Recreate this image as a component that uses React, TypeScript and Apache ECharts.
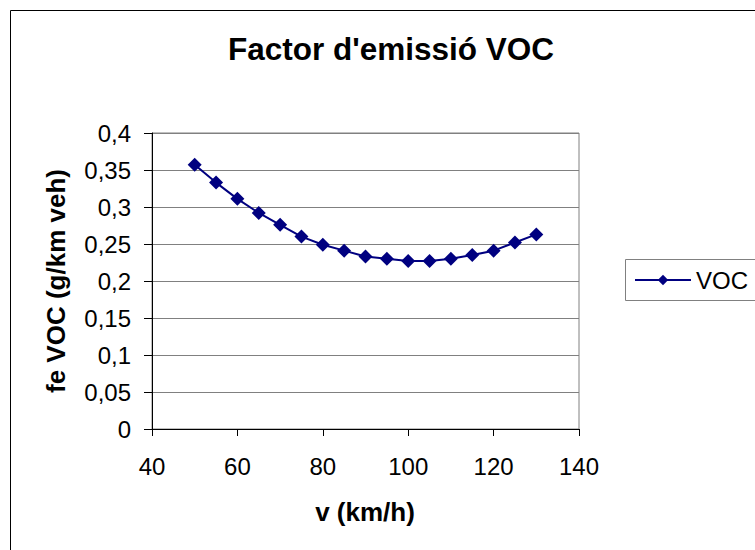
import React, { useEffect, useRef } from "react";
import * as echarts from "echarts";

// Speed (km/h) and VOC emission factor (g/km veh)
const speeds = [50, 55, 60, 65, 70, 75, 80, 85, 90, 95, 100, 105, 110, 115, 120, 125, 130];
const vocFactor = [
  0.357, 0.333, 0.311, 0.292, 0.276, 0.26, 0.249, 0.241, 0.233, 0.23, 0.227, 0.227, 0.23, 0.235,
  0.241, 0.252, 0.263,
];
const seriesName = "VOC";
const titleText = "Factor d'emissió VOC";
const xAxisTitle = "v (km/h)";
const yAxisTitle = "fe VOC (g/km veh)";

const FONT = "'Liberation Sans', Arial, sans-serif";
const NAVY = "#000080";

export default function App() {
  const ref = useRef<HTMLDivElement>(null);

  useEffect(() => {
    const el = ref.current;
    if (!el) return;
    const chart = echarts.init(el, undefined, { renderer: "svg" });

    const points = speeds.map((s, i) => [s, vocFactor[i]]);

    chart.setOption({
      animation: false,
      backgroundColor: "#ffffff",
      textStyle: { fontFamily: FONT },
      title: {
        text: titleText,
        left: 386,
        top: 28,
        textAlign: "center",
        textStyle: { fontFamily: FONT, fontSize: 31.5, fontWeight: "bold", color: "#000" },
      },
      grid: { left: 152, right: 176, top: 133, bottom: 121, show: true, borderColor: "#808080", borderWidth: 1 },
      xAxis: {
        type: "value",
        min: 40,
        max: 140,
        interval: 20,
        axisLine: { show: true, lineStyle: { color: "#000", width: 1 } },
        axisTick: { show: true, length: 7, lineStyle: { color: "#000" } },
        splitLine: { show: false },
        axisLabel: { fontFamily: FONT, fontSize: 24, color: "#000", margin: 25 },
      },
      yAxis: {
        type: "value",
        min: 0,
        max: 0.4,
        interval: 0.05,
        axisLine: { show: true, lineStyle: { color: "#000", width: 1 } },
        axisTick: { show: true, length: 8, lineStyle: { color: "#000" } },
        splitLine: { show: true, lineStyle: { color: "#808080", width: 1 } },
        axisLabel: {
          fontFamily: FONT,
          fontSize: 24,
          color: "#000",
          margin: 21,
          formatter: (v: number) => String(+v.toFixed(2)).replace(".", ","),
        },
      },
      legend: {
        data: [seriesName],
        left: 634,
        top: 268,
        padding: 0,
        itemWidth: 56,
        itemHeight: 13,
        itemGap: 0,
        textStyle: { fontFamily: FONT, fontSize: 24, color: "#000" },
      },
      graphic: [
        {
          type: "rect",
          shape: { x: 10.5, y: 10.5, width: 800, height: 600 },
          style: { fill: "none", stroke: "#000", lineWidth: 1 },
          silent: true,
        },
        {
          type: "rect",
          shape: { x: 625.5, y: 259.5, width: 200, height: 41 },
          style: { fill: "none", stroke: "#808080", lineWidth: 1 },
          silent: true,
        },
        {
          type: "text",
          x: 365,
          y: 512,
          style: {
            text: xAxisTitle,
            fontFamily: FONT,
            fontSize: 26,
            fontWeight: "bold",
            fill: "#000",
            align: "center",
            verticalAlign: "middle",
          },
        },
        {
          type: "text",
          x: 56,
          y: 281,
          rotation: Math.PI / 2,
          style: {
            text: yAxisTitle,
            fontFamily: FONT,
            fontSize: 26,
            fontWeight: "bold",
            fill: "#000",
            align: "center",
            verticalAlign: "middle",
          },
        },
      ],
      series: [
        {
          name: seriesName,
          type: "line",
          data: points,
          symbol: "diamond",
          symbolSize: 14,
          showSymbol: true,
          lineStyle: { color: NAVY, width: 2 },
          itemStyle: { color: NAVY },
        },
      ],
    });

    return () => chart.dispose();
  }, []);

  return (
    <div
      ref={ref}
      style={{ position: "fixed", left: 0, top: 0, width: 755, height: 550 }}
    />
  );
}
